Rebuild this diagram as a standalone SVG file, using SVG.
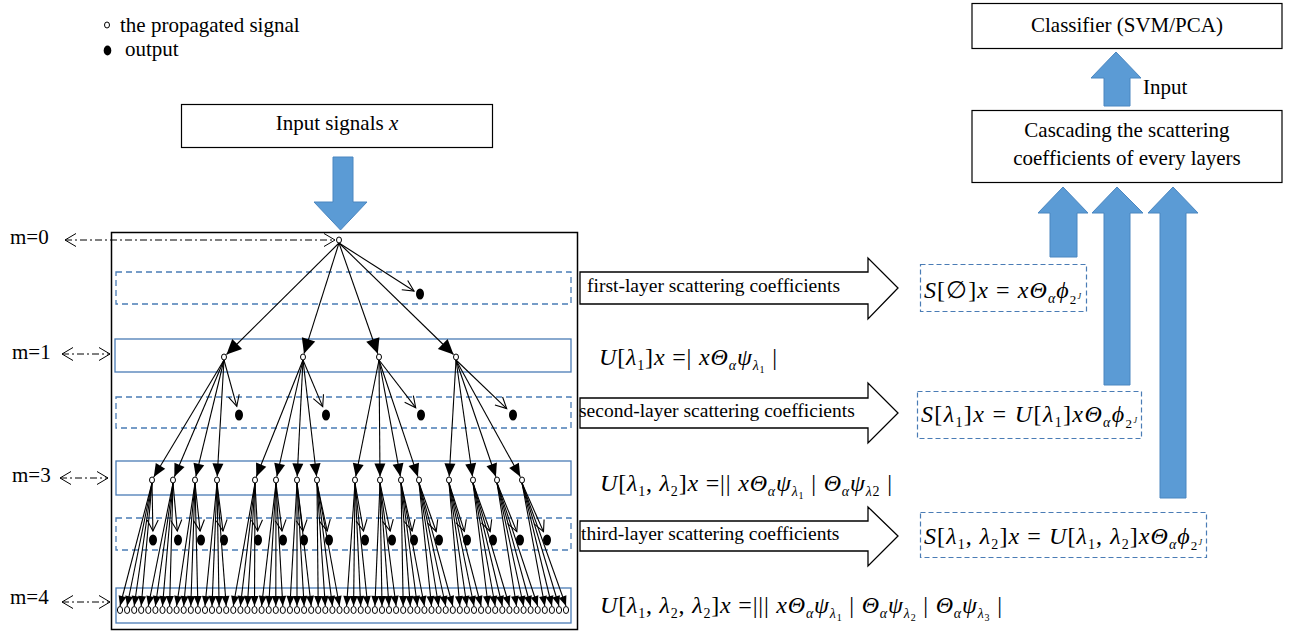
<svg xmlns="http://www.w3.org/2000/svg" width="1291" height="635" viewBox="0 0 1291 635">
<style>
.t{font-family:"Liberation Serif","Times New Roman",serif;font-size:21px;fill:#000}
.lbl{font-size:19.5px}
.f{font-family:"Liberation Serif","Times New Roman",serif;font-size:24px;fill:#000}
.i{font-style:italic}
.sn{fill:#fff;stroke:#000;stroke-width:1}
.od{fill:#000}
.e{stroke:#000;stroke-width:1.1;fill:none}
.e1{marker-end:url(#tri1)}
.e2{marker-end:url(#tri2)}
.e3{marker-end:url(#tri3)}
.eo{marker-end:url(#openv)}
.band{fill:none;stroke:#4a7cb5;stroke-width:1.3}
.dash{stroke-dasharray:6 4}
.sbox{fill:none;stroke:#4a7cb5;stroke-width:1.2;stroke-dasharray:5 3}
.blk{fill:#fff;stroke:#000;stroke-width:1.3}
.box{fill:#fff;stroke:#000;stroke-width:1.2}
.blue{fill:#5b9bd5;stroke:#4a86c0;stroke-width:1}
.dd{stroke:#000;stroke-width:1;fill:none;stroke-dasharray:7 3 2 3;marker-start:url(#chev);marker-end:url(#chev)}
</style>
<defs>
<marker id="tri1" markerUnits="userSpaceOnUse" markerWidth="18" markerHeight="16" refX="15" refY="7" orient="auto" overflow="visible"><path d="M0,0 L15,7 L0,14 Z" fill="#000"/></marker>
<marker id="tri2" markerUnits="userSpaceOnUse" markerWidth="15" markerHeight="13" refX="13" refY="5.5" orient="auto" overflow="visible"><path d="M0,0 L13,5.5 L0,11 Z" fill="#000"/></marker>
<marker id="tri3" markerUnits="userSpaceOnUse" markerWidth="11" markerHeight="9" refX="10" refY="4" orient="auto" overflow="visible"><path d="M0,0 L10,4 L0,8 Z" fill="#000"/></marker>
<marker id="openv" markerUnits="userSpaceOnUse" markerWidth="13" markerHeight="13" refX="11" refY="5.5" orient="auto" overflow="visible"><path d="M0,0 L11,5.5 L0,11" fill="none" stroke="#000" stroke-width="1.1"/></marker>
<marker id="chev" markerUnits="userSpaceOnUse" markerWidth="13" markerHeight="14" refX="11" refY="6.5" orient="auto-start-reverse" overflow="visible"><path d="M0,0 L11,6.5 L0,13" fill="none" stroke="#000" stroke-width="1"/></marker>
</defs>
<rect width="1291" height="635" fill="#fff"/>

<g id="legend">
<ellipse class="sn" cx="107" cy="25" rx="2.5" ry="3"/>
<text class="t" x="120" y="32">the propagated signal</text>
<ellipse class="od" cx="107.5" cy="50.5" rx="3.8" ry="5"/>
<text class="t" x="125" y="56">output</text>
</g>

<g id="input-box">
<rect class="box" x="181.5" y="104.5" width="311" height="43"/>
<text class="t" x="337" y="130" text-anchor="middle">Input signals <tspan class="i">x</tspan></text>
</g>

<g id="classifier">
<rect class="box" x="972" y="3.5" width="310" height="45"/>
<text class="t" x="1127" y="32" text-anchor="middle">Classifier (SVM/PCA)</text>
</g>

<g id="cascade">
<rect class="box" x="972" y="110.5" width="310" height="72"/>
<text class="t" x="1127" y="137" text-anchor="middle">Cascading the scattering</text>
<text class="t" x="1127" y="165" text-anchor="middle">coefficients of every layers</text>
</g>

<g id="frame">
<rect x="111.5" y="232.5" width="466" height="397" fill="none" stroke="#000" stroke-width="1.5"/>
<rect class="band dash" x="116" y="272" width="455" height="32"/>
<rect class="band" x="115" y="339" width="456" height="33"/>
<rect class="band dash" x="116" y="397" width="455" height="31"/>
<rect class="band" x="116" y="461" width="455" height="34"/>
<rect class="band dash" x="116" y="518" width="455" height="32"/>
<rect class="band" x="116" y="588" width="455" height="35"/>
</g>

<g id="level-labels">
<text class="t" x="10" y="244">m=0</text>
<text class="t" x="12" y="359">m=1</text>
<text class="t" x="12" y="482">m=3</text>
<text class="t" x="10" y="604">m=4</text>
</g>

<g id="connectors">
<path class="dd" d="M65,240 H335"/>
<path class="dd" d="M62,354 H110"/>
<path class="dd" d="M60,478 H108"/>
<path class="dd" d="M62,602 H110"/>

<polygon class="blue" points="333,157 353,157 353,202 367,202 340.5,230 314,202 333,202"/>
<polygon class="blue" points="1104,106 1104,78 1091,78 1116,52 1141,78 1130,78 1130,106"/>
<text class="t" x="1143" y="94">Input</text>
<polygon class="blue" points="1050,257 1050,213 1038,213 1063,187 1088,213 1077,213 1077,257"/>
<polygon class="blue" points="1104,385 1104,213 1092,213 1117,187 1143,213 1130,213 1130,385"/>
<polygon class="blue" points="1160,498 1160,213 1148,213 1173,187 1198,213 1186,213 1186,498"/>

<polygon class="blk" points="580,272 868,272 868,258 898,288 868,319 868,304 580,304"/>
<text class="t lbl" x="587" y="292">first-layer scattering coefficients</text>
<polygon class="blk" points="580,398 868,398 868,383 898,413 868,443 868,428 580,428"/>
<text class="t lbl" x="579" y="417">second-layer scattering coefficients</text>
<polygon class="blk" points="580,521 868,521 868,507 898,536 868,566 868,551 580,551"/>
<text class="t lbl" x="581" y="540">third-layer scattering coefficients</text>

<g class="e e1">
<line x1="339" y1="243" x2="226.5" y2="354.5"/>
<line x1="339" y1="243" x2="304" y2="353.7"/>
<line x1="339" y1="243" x2="377.8" y2="353.7"/>
<line x1="339" y1="243" x2="453.5" y2="354.5"/>
</g>
<g class="e eo">
<line x1="339" y1="243" x2="414" y2="291"/>
<line x1="224" y1="360" x2="236.8" y2="406.3"/>
<line x1="303" y1="360" x2="322.7" y2="406.6"/>
<line x1="379" y1="360" x2="415.7" y2="407.7"/>
<line x1="456" y1="360" x2="506.7" y2="408.6"/>
<line x1="152" y1="483" x2="152.9" y2="531"/>
<line x1="173" y1="483" x2="177.3" y2="531"/>
<line x1="195" y1="483" x2="200.1" y2="531"/>
<line x1="217" y1="483" x2="223" y2="531"/>
<line x1="255" y1="483" x2="257.6" y2="531"/>
<line x1="276" y1="483" x2="282" y2="531"/>
<line x1="297" y1="483" x2="303" y2="531"/>
<line x1="317" y1="483" x2="327.2" y2="531"/>
<line x1="355" y1="483" x2="363.5" y2="531"/>
<line x1="380" y1="483" x2="390.2" y2="531"/>
<line x1="401" y1="483" x2="412.1" y2="531"/>
<line x1="419" y1="483" x2="436.2" y2="531.5"/>
<line x1="449" y1="483" x2="464.4" y2="531.4"/>
<line x1="473" y1="483" x2="490.2" y2="531.5"/>
<line x1="497" y1="483" x2="516.8" y2="531.6"/>
<line x1="522" y1="483" x2="543.5" y2="531.7"/>
</g>
<g class="e e2">
<line x1="224" y1="360" x2="153.8" y2="477"/>
<line x1="224" y1="360" x2="174.4" y2="476.8"/>
<line x1="224" y1="360" x2="195.8" y2="476.6"/>
<line x1="224" y1="360" x2="217.2" y2="476.5"/>
<line x1="303" y1="360" x2="256.3" y2="476.7"/>
<line x1="303" y1="360" x2="276.8" y2="476.6"/>
<line x1="303" y1="360" x2="297.2" y2="476.5"/>
<line x1="303" y1="360" x2="316.6" y2="476.5"/>
<line x1="379" y1="360" x2="355.7" y2="476.6"/>
<line x1="379" y1="360" x2="380" y2="476.5"/>
<line x1="379" y1="360" x2="400.4" y2="476.6"/>
<line x1="379" y1="360" x2="417.9" y2="476.7"/>
<line x1="456" y1="360" x2="449.2" y2="476.5"/>
<line x1="456" y1="360" x2="472.5" y2="476.5"/>
<line x1="456" y1="360" x2="495.9" y2="476.7"/>
<line x1="456" y1="360" x2="520.3" y2="476.8"/>
</g>
<g class="e e3">
<line x1="152" y1="483" x2="120" y2="606"/><line x1="152" y1="483" x2="127.1" y2="606"/><line x1="152" y1="483" x2="134.2" y2="606"/><line x1="152" y1="483" x2="141.2" y2="606"/>
<line x1="173" y1="483" x2="148.3" y2="606"/><line x1="173" y1="483" x2="155.4" y2="606"/><line x1="173" y1="483" x2="162.5" y2="606"/><line x1="173" y1="483" x2="169.6" y2="606"/>
<line x1="195" y1="483" x2="176.6" y2="606"/><line x1="195" y1="483" x2="183.7" y2="606"/><line x1="195" y1="483" x2="190.8" y2="606"/><line x1="195" y1="483" x2="197.9" y2="606"/>
<line x1="217" y1="483" x2="205" y2="606"/><line x1="217" y1="483" x2="212" y2="606"/><line x1="217" y1="483" x2="219.1" y2="606"/><line x1="217" y1="483" x2="226.2" y2="606"/>
<line x1="255" y1="483" x2="233.3" y2="606"/><line x1="255" y1="483" x2="240.4" y2="606"/><line x1="255" y1="483" x2="247.4" y2="606"/><line x1="255" y1="483" x2="254.5" y2="606"/>
<line x1="276" y1="483" x2="261.6" y2="606"/><line x1="276" y1="483" x2="268.7" y2="606"/><line x1="276" y1="483" x2="275.8" y2="606"/><line x1="276" y1="483" x2="282.8" y2="606"/>
<line x1="297" y1="483" x2="289.9" y2="606"/><line x1="297" y1="483" x2="297" y2="606"/><line x1="297" y1="483" x2="304.1" y2="606"/><line x1="297" y1="483" x2="311.2" y2="606"/>
<line x1="317" y1="483" x2="318.2" y2="606"/><line x1="317" y1="483" x2="325.3" y2="606"/><line x1="317" y1="483" x2="332.4" y2="606"/><line x1="317" y1="483" x2="339.5" y2="606"/>
<line x1="355" y1="483" x2="346.6" y2="606"/><line x1="355" y1="483" x2="353.6" y2="606"/><line x1="355" y1="483" x2="360.7" y2="606"/><line x1="355" y1="483" x2="367.8" y2="606"/>
<line x1="380" y1="483" x2="374.9" y2="606"/><line x1="380" y1="483" x2="382" y2="606"/><line x1="380" y1="483" x2="389" y2="606"/><line x1="380" y1="483" x2="396.1" y2="606"/>
<line x1="401" y1="483" x2="403.2" y2="606"/><line x1="401" y1="483" x2="410.3" y2="606"/><line x1="401" y1="483" x2="417.4" y2="606"/><line x1="401" y1="483" x2="424.4" y2="606"/>
<line x1="419" y1="483" x2="431.5" y2="606"/><line x1="419" y1="483" x2="438.6" y2="606"/><line x1="419" y1="483" x2="445.7" y2="606"/><line x1="419" y1="483" x2="452.8" y2="606"/>
<line x1="449" y1="483" x2="459.8" y2="606"/><line x1="449" y1="483" x2="466.9" y2="606"/><line x1="449" y1="483" x2="474" y2="606"/><line x1="449" y1="483" x2="481.1" y2="606"/>
<line x1="473" y1="483" x2="488.2" y2="606"/><line x1="473" y1="483" x2="495.2" y2="606"/><line x1="473" y1="483" x2="502.3" y2="606"/><line x1="473" y1="483" x2="509.4" y2="606"/>
<line x1="497" y1="483" x2="516.5" y2="606"/><line x1="497" y1="483" x2="523.6" y2="606"/><line x1="497" y1="483" x2="530.6" y2="606"/><line x1="497" y1="483" x2="537.7" y2="606"/>
<line x1="522" y1="483" x2="544.8" y2="606"/><line x1="522" y1="483" x2="551.9" y2="606"/><line x1="522" y1="483" x2="559" y2="606"/><line x1="522" y1="483" x2="566" y2="606"/>
</g>
</g>

<g id="root"><ellipse class="sn" cx="339" cy="240" rx="2.5" ry="3"/></g>
<g id="out0"><ellipse class="od" cx="420" cy="294" rx="4" ry="5.5"/></g>

<g id="n1-0"><ellipse class="sn" cx="224" cy="357" rx="2.5" ry="3"/></g>
<g id="n1-1"><ellipse class="sn" cx="303" cy="357" rx="2.5" ry="3"/></g>
<g id="n1-2"><ellipse class="sn" cx="379" cy="357" rx="2.5" ry="3"/></g>
<g id="n1-3"><ellipse class="sn" cx="456" cy="357" rx="2.5" ry="3"/></g>
<g id="out1-0"><ellipse class="od" cx="239" cy="415" rx="4" ry="5.5"/></g>
<g id="out1-1"><ellipse class="od" cx="326" cy="415" rx="4" ry="5.5"/></g>
<g id="out1-2"><ellipse class="od" cx="421" cy="415" rx="4" ry="5.5"/></g>
<g id="out1-3"><ellipse class="od" cx="513" cy="415" rx="4" ry="5.5"/></g>

<g id="n2-0"><ellipse class="sn" cx="152" cy="480" rx="2.5" ry="3"/></g>
<g id="n2-1"><ellipse class="sn" cx="173" cy="480" rx="2.5" ry="3"/></g>
<g id="n2-2"><ellipse class="sn" cx="195" cy="480" rx="2.5" ry="3"/></g>
<g id="n2-3"><ellipse class="sn" cx="217" cy="480" rx="2.5" ry="3"/></g>
<g id="n2-4"><ellipse class="sn" cx="255" cy="480" rx="2.5" ry="3"/></g>
<g id="n2-5"><ellipse class="sn" cx="276" cy="480" rx="2.5" ry="3"/></g>
<g id="n2-6"><ellipse class="sn" cx="297" cy="480" rx="2.5" ry="3"/></g>
<g id="n2-7"><ellipse class="sn" cx="317" cy="480" rx="2.5" ry="3"/></g>
<g id="n2-8"><ellipse class="sn" cx="355" cy="480" rx="2.5" ry="3"/></g>
<g id="n2-9"><ellipse class="sn" cx="380" cy="480" rx="2.5" ry="3"/></g>
<g id="n2-10"><ellipse class="sn" cx="401" cy="480" rx="2.5" ry="3"/></g>
<g id="n2-11"><ellipse class="sn" cx="419" cy="480" rx="2.5" ry="3"/></g>
<g id="n2-12"><ellipse class="sn" cx="449" cy="480" rx="2.5" ry="3"/></g>
<g id="n2-13"><ellipse class="sn" cx="473" cy="480" rx="2.5" ry="3"/></g>
<g id="n2-14"><ellipse class="sn" cx="497" cy="480" rx="2.5" ry="3"/></g>
<g id="n2-15"><ellipse class="sn" cx="522" cy="480" rx="2.5" ry="3"/></g>

<g id="out2-0"><ellipse class="od" cx="153" cy="540" rx="4" ry="5.5"/></g>
<g id="out2-1"><ellipse class="od" cx="178" cy="540" rx="4" ry="5.5"/></g>
<g id="out2-2"><ellipse class="od" cx="201" cy="540" rx="4" ry="5.5"/></g>
<g id="out2-3"><ellipse class="od" cx="224" cy="540" rx="4" ry="5.5"/></g>
<g id="out2-4"><ellipse class="od" cx="258" cy="540" rx="4" ry="5.5"/></g>
<g id="out2-5"><ellipse class="od" cx="283" cy="540" rx="4" ry="5.5"/></g>
<g id="out2-6"><ellipse class="od" cx="304" cy="540" rx="4" ry="5.5"/></g>
<g id="out2-7"><ellipse class="od" cx="329" cy="540" rx="4" ry="5.5"/></g>
<g id="out2-8"><ellipse class="od" cx="365" cy="540" rx="4" ry="5.5"/></g>
<g id="out2-9"><ellipse class="od" cx="392" cy="540" rx="4" ry="5.5"/></g>
<g id="out2-10"><ellipse class="od" cx="414" cy="540" rx="4" ry="5.5"/></g>
<g id="out2-11"><ellipse class="od" cx="439" cy="540" rx="4" ry="5.5"/></g>
<g id="out2-12"><ellipse class="od" cx="467" cy="540" rx="4" ry="5.5"/></g>
<g id="out2-13"><ellipse class="od" cx="493" cy="540" rx="4" ry="5.5"/></g>
<g id="out2-14"><ellipse class="od" cx="520" cy="540" rx="4" ry="5.5"/></g>
<g id="out2-15"><ellipse class="od" cx="547" cy="540" rx="4" ry="5.5"/></g>

<g id="n3-row">
<g id="n3-0"><ellipse class="sn" cx="120" cy="610" rx="2.6" ry="3.5"/></g>
<g id="n3-1"><ellipse class="sn" cx="127.1" cy="610" rx="2.6" ry="3.5"/></g>
<g id="n3-2"><ellipse class="sn" cx="134.2" cy="610" rx="2.6" ry="3.5"/></g>
<g id="n3-3"><ellipse class="sn" cx="141.2" cy="610" rx="2.6" ry="3.5"/></g>
<g id="n3-4"><ellipse class="sn" cx="148.3" cy="610" rx="2.6" ry="3.5"/></g>
<g id="n3-5"><ellipse class="sn" cx="155.4" cy="610" rx="2.6" ry="3.5"/></g>
<g id="n3-6"><ellipse class="sn" cx="162.5" cy="610" rx="2.6" ry="3.5"/></g>
<g id="n3-7"><ellipse class="sn" cx="169.6" cy="610" rx="2.6" ry="3.5"/></g>
<g id="n3-8"><ellipse class="sn" cx="176.6" cy="610" rx="2.6" ry="3.5"/></g>
<g id="n3-9"><ellipse class="sn" cx="183.7" cy="610" rx="2.6" ry="3.5"/></g>
<g id="n3-10"><ellipse class="sn" cx="190.8" cy="610" rx="2.6" ry="3.5"/></g>
<g id="n3-11"><ellipse class="sn" cx="197.9" cy="610" rx="2.6" ry="3.5"/></g>
<g id="n3-12"><ellipse class="sn" cx="205" cy="610" rx="2.6" ry="3.5"/></g>
<g id="n3-13"><ellipse class="sn" cx="212" cy="610" rx="2.6" ry="3.5"/></g>
<g id="n3-14"><ellipse class="sn" cx="219.1" cy="610" rx="2.6" ry="3.5"/></g>
<g id="n3-15"><ellipse class="sn" cx="226.2" cy="610" rx="2.6" ry="3.5"/></g>
<g id="n3-16"><ellipse class="sn" cx="233.3" cy="610" rx="2.6" ry="3.5"/></g>
<g id="n3-17"><ellipse class="sn" cx="240.4" cy="610" rx="2.6" ry="3.5"/></g>
<g id="n3-18"><ellipse class="sn" cx="247.4" cy="610" rx="2.6" ry="3.5"/></g>
<g id="n3-19"><ellipse class="sn" cx="254.5" cy="610" rx="2.6" ry="3.5"/></g>
<g id="n3-20"><ellipse class="sn" cx="261.6" cy="610" rx="2.6" ry="3.5"/></g>
<g id="n3-21"><ellipse class="sn" cx="268.7" cy="610" rx="2.6" ry="3.5"/></g>
<g id="n3-22"><ellipse class="sn" cx="275.8" cy="610" rx="2.6" ry="3.5"/></g>
<g id="n3-23"><ellipse class="sn" cx="282.8" cy="610" rx="2.6" ry="3.5"/></g>
<g id="n3-24"><ellipse class="sn" cx="289.9" cy="610" rx="2.6" ry="3.5"/></g>
<g id="n3-25"><ellipse class="sn" cx="297" cy="610" rx="2.6" ry="3.5"/></g>
<g id="n3-26"><ellipse class="sn" cx="304.1" cy="610" rx="2.6" ry="3.5"/></g>
<g id="n3-27"><ellipse class="sn" cx="311.2" cy="610" rx="2.6" ry="3.5"/></g>
<g id="n3-28"><ellipse class="sn" cx="318.2" cy="610" rx="2.6" ry="3.5"/></g>
<g id="n3-29"><ellipse class="sn" cx="325.3" cy="610" rx="2.6" ry="3.5"/></g>
<g id="n3-30"><ellipse class="sn" cx="332.4" cy="610" rx="2.6" ry="3.5"/></g>
<g id="n3-31"><ellipse class="sn" cx="339.5" cy="610" rx="2.6" ry="3.5"/></g>
<g id="n3-32"><ellipse class="sn" cx="346.6" cy="610" rx="2.6" ry="3.5"/></g>
<g id="n3-33"><ellipse class="sn" cx="353.6" cy="610" rx="2.6" ry="3.5"/></g>
<g id="n3-34"><ellipse class="sn" cx="360.7" cy="610" rx="2.6" ry="3.5"/></g>
<g id="n3-35"><ellipse class="sn" cx="367.8" cy="610" rx="2.6" ry="3.5"/></g>
<g id="n3-36"><ellipse class="sn" cx="374.9" cy="610" rx="2.6" ry="3.5"/></g>
<g id="n3-37"><ellipse class="sn" cx="382" cy="610" rx="2.6" ry="3.5"/></g>
<g id="n3-38"><ellipse class="sn" cx="389" cy="610" rx="2.6" ry="3.5"/></g>
<g id="n3-39"><ellipse class="sn" cx="396.1" cy="610" rx="2.6" ry="3.5"/></g>
<g id="n3-40"><ellipse class="sn" cx="403.2" cy="610" rx="2.6" ry="3.5"/></g>
<g id="n3-41"><ellipse class="sn" cx="410.3" cy="610" rx="2.6" ry="3.5"/></g>
<g id="n3-42"><ellipse class="sn" cx="417.4" cy="610" rx="2.6" ry="3.5"/></g>
<g id="n3-43"><ellipse class="sn" cx="424.4" cy="610" rx="2.6" ry="3.5"/></g>
<g id="n3-44"><ellipse class="sn" cx="431.5" cy="610" rx="2.6" ry="3.5"/></g>
<g id="n3-45"><ellipse class="sn" cx="438.6" cy="610" rx="2.6" ry="3.5"/></g>
<g id="n3-46"><ellipse class="sn" cx="445.7" cy="610" rx="2.6" ry="3.5"/></g>
<g id="n3-47"><ellipse class="sn" cx="452.8" cy="610" rx="2.6" ry="3.5"/></g>
<g id="n3-48"><ellipse class="sn" cx="459.8" cy="610" rx="2.6" ry="3.5"/></g>
<g id="n3-49"><ellipse class="sn" cx="466.9" cy="610" rx="2.6" ry="3.5"/></g>
<g id="n3-50"><ellipse class="sn" cx="474" cy="610" rx="2.6" ry="3.5"/></g>
<g id="n3-51"><ellipse class="sn" cx="481.1" cy="610" rx="2.6" ry="3.5"/></g>
<g id="n3-52"><ellipse class="sn" cx="488.2" cy="610" rx="2.6" ry="3.5"/></g>
<g id="n3-53"><ellipse class="sn" cx="495.2" cy="610" rx="2.6" ry="3.5"/></g>
<g id="n3-54"><ellipse class="sn" cx="502.3" cy="610" rx="2.6" ry="3.5"/></g>
<g id="n3-55"><ellipse class="sn" cx="509.4" cy="610" rx="2.6" ry="3.5"/></g>
<g id="n3-56"><ellipse class="sn" cx="516.5" cy="610" rx="2.6" ry="3.5"/></g>
<g id="n3-57"><ellipse class="sn" cx="523.6" cy="610" rx="2.6" ry="3.5"/></g>
<g id="n3-58"><ellipse class="sn" cx="530.6" cy="610" rx="2.6" ry="3.5"/></g>
<g id="n3-59"><ellipse class="sn" cx="537.7" cy="610" rx="2.6" ry="3.5"/></g>
<g id="n3-60"><ellipse class="sn" cx="544.8" cy="610" rx="2.6" ry="3.5"/></g>
<g id="n3-61"><ellipse class="sn" cx="551.9" cy="610" rx="2.6" ry="3.5"/></g>
<g id="n3-62"><ellipse class="sn" cx="559" cy="610" rx="2.6" ry="3.5"/></g>
<g id="n3-63"><ellipse class="sn" cx="566" cy="610" rx="2.6" ry="3.5"/></g>
</g>

<g id="formula-u1">
<text class="f" x="599" y="365" textLength="178" lengthAdjust="spacing"><tspan class="i">U</tspan>[<tspan class="i">λ</tspan><tspan font-size="14" dy="5">1</tspan><tspan dy="-5">]</tspan><tspan class="i">x</tspan> =| <tspan class="i">x</tspan><tspan class="i">Θ</tspan><tspan class="i" font-size="14" dy="5">α</tspan><tspan class="i" dy="-5">ψ</tspan><tspan class="i" font-size="14" dy="5">λ</tspan><tspan font-size="10" dy="3">1</tspan><tspan dy="-8"> |</tspan></text>
</g>
<g id="formula-u2">
<text class="f" x="600" y="491" textLength="292" lengthAdjust="spacing"><tspan class="i">U</tspan>[<tspan class="i">λ</tspan><tspan font-size="14" dy="5">1</tspan><tspan dy="-5">, </tspan><tspan class="i">λ</tspan><tspan font-size="14" dy="5">2</tspan><tspan dy="-5">]</tspan><tspan class="i">x</tspan> =|| <tspan class="i">x</tspan><tspan class="i">Θ</tspan><tspan class="i" font-size="14" dy="5">α</tspan><tspan class="i" dy="-5">ψ</tspan><tspan class="i" font-size="14" dy="5">λ</tspan><tspan font-size="10" dy="3">1</tspan><tspan dy="-8"> | </tspan><tspan class="i">Θ</tspan><tspan class="i" font-size="14" dy="5">α</tspan><tspan class="i" dy="-5">ψ</tspan><tspan class="i" font-size="14" dy="5">λ</tspan><tspan font-size="14">2</tspan><tspan dy="-5"> |</tspan></text>
</g>
<g id="formula-u3">
<text class="f" x="600" y="613" textLength="402" lengthAdjust="spacing"><tspan class="i">U</tspan>[<tspan class="i">λ</tspan><tspan font-size="14" dy="5">1</tspan><tspan dy="-5">, </tspan><tspan class="i">λ</tspan><tspan font-size="14" dy="5">2</tspan><tspan dy="-5">, </tspan><tspan class="i">λ</tspan><tspan font-size="14" dy="5">2</tspan><tspan dy="-5">]</tspan><tspan class="i">x</tspan> =||| <tspan class="i">x</tspan><tspan class="i">Θ</tspan><tspan class="i" font-size="14" dy="5">α</tspan><tspan class="i" dy="-5">ψ</tspan><tspan class="i" font-size="14" dy="5">λ</tspan><tspan font-size="10" dy="3">1</tspan><tspan dy="-8"> | </tspan><tspan class="i">Θ</tspan><tspan class="i" font-size="14" dy="5">α</tspan><tspan class="i" dy="-5">ψ</tspan><tspan class="i" font-size="14" dy="5">λ</tspan><tspan font-size="10" dy="3">2</tspan><tspan dy="-8"> | </tspan><tspan class="i">Θ</tspan><tspan class="i" font-size="14" dy="5">α</tspan><tspan class="i" dy="-5">ψ</tspan><tspan class="i" font-size="14" dy="5">λ</tspan><tspan font-size="10" dy="3">3</tspan><tspan dy="-8"> |</tspan></text>
</g>

<g id="s0">
<rect class="sbox" x="920.5" y="264.5" width="166" height="47"/>
<text class="f" x="924" y="298" font-size="23" textLength="157" lengthAdjust="spacing"><tspan class="i">S</tspan>[∅]<tspan class="i">x</tspan> = <tspan class="i">x</tspan><tspan class="i">Θ</tspan><tspan class="i" font-size="14" dy="5">α</tspan><tspan class="i" dy="-5">ϕ</tspan><tspan font-size="13" dy="6">2</tspan><tspan class="i" font-size="8" dy="-5">J</tspan></text>
</g>
<g id="s1">
<rect class="sbox" x="917.5" y="391.5" width="224" height="47"/>
<text class="f" x="921" y="422" font-size="23" textLength="216" lengthAdjust="spacing"><tspan class="i">S</tspan>[<tspan class="i">λ</tspan><tspan font-size="14" dy="5">1</tspan><tspan dy="-5">]</tspan><tspan class="i">x</tspan> = <tspan class="i">U</tspan>[<tspan class="i">λ</tspan><tspan font-size="14" dy="5">1</tspan><tspan dy="-5">]</tspan><tspan class="i">x</tspan><tspan class="i">Θ</tspan><tspan class="i" font-size="14" dy="5">α</tspan><tspan class="i" dy="-5">ϕ</tspan><tspan font-size="13" dy="6">2</tspan><tspan class="i" font-size="8" dy="-5">J</tspan></text>
</g>
<g id="s2">
<rect class="sbox" x="920.5" y="512.5" width="286" height="45"/>
<text class="f" x="924" y="544" font-size="23" textLength="278" lengthAdjust="spacing"><tspan class="i">S</tspan>[<tspan class="i">λ</tspan><tspan font-size="14" dy="5">1</tspan><tspan dy="-5">, </tspan><tspan class="i">λ</tspan><tspan font-size="14" dy="5">2</tspan><tspan dy="-5">]</tspan><tspan class="i">x</tspan> = <tspan class="i">U</tspan>[<tspan class="i">λ</tspan><tspan font-size="14" dy="5">1</tspan><tspan dy="-5">, </tspan><tspan class="i">λ</tspan><tspan font-size="14" dy="5">2</tspan><tspan dy="-5">]</tspan><tspan class="i">x</tspan><tspan class="i">Θ</tspan><tspan class="i" font-size="14" dy="5">α</tspan><tspan class="i" dy="-5">ϕ</tspan><tspan font-size="13" dy="6">2</tspan><tspan class="i" font-size="8" dy="-5">J</tspan></text>
</g>
</svg>
